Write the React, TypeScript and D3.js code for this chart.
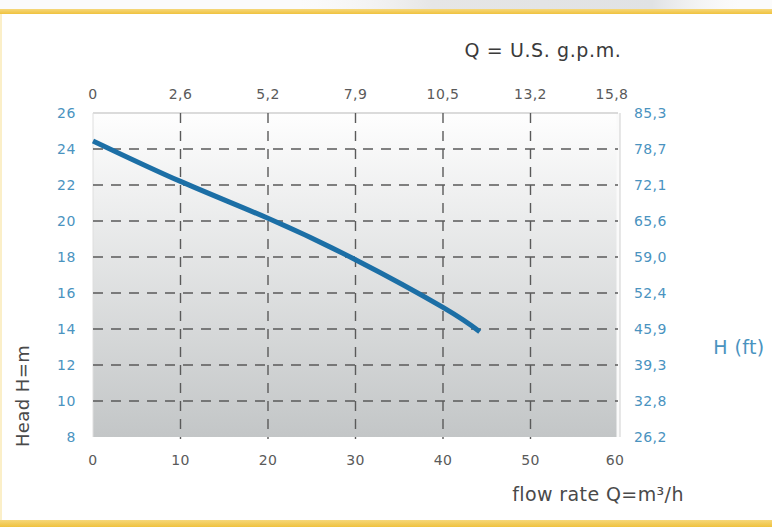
import React from "react";
import * as d3 from "d3";

const flowM3h = [0, 10, 20, 30, 40, 44.2];
const headM = [24.45, 22.2, 20.15, 17.85, 15.2, 13.85];
const xTicks = [0, 10, 20, 30, 40, 50, 60];
const yTicks = [8, 10, 12, 14, 16, 18, 20, 22, 24, 26];
const gpmLabels = ["0", "2,6", "5,2", "7,9", "10,5", "13,2", "15,8"];
const ftLabels = ["26,2", "32,8", "39,3", "45,9", "52,4", "59,0", "65,6", "72,1", "78,7", "85,3"];

const W = 772;
const H = 527;
const FONT = "'DejaVu Sans', 'Noto Sans', sans-serif";

export default function App() {
  const x = d3.scaleLinear().domain([0, 60]).range([93, 618]);
  const y = d3.scaleLinear().domain([8, 26]).range([437, 113]);
  const pts: [number, number][] = flowM3h.map((f, i) => [f, headM[i]]);
  const line = d3
    .line<[number, number]>()
    .x((d) => x(d[0]))
    .y((d) => y(d[1]))
    .curve(d3.curveNatural);

  const [x0, x1] = x.range();
  const [yb, yt] = y.range();
  const grid = "#5a5a5a";
  const blue = "#4a93bf";
  const gray = "#5a5a5a";

  return (
    <svg
      width={W}
      height={H}
      style={{ position: "absolute", left: 0, top: 0, background: "#fff" }}
      fontFamily={FONT}
    >
      <defs>
        <linearGradient id="bg" x1="0" y1="0" x2="0" y2="1">
          <stop offset="0" stopColor="#fefefe" />
          <stop offset="1" stopColor="#c3c6c7" />
        </linearGradient>
        <linearGradient id="yel" x1="0" y1="0" x2="0" y2="1">
          <stop offset="0" stopColor="#f6d77a" />
          <stop offset="1" stopColor="#efc23e" />
        </linearGradient>
        <linearGradient id="topimg" x1="0" y1="0" x2="1" y2="0">
          <stop offset="0" stopColor="#f3f3f3" stopOpacity="0" />
          <stop offset="0.3" stopColor="#e6e6e6" />
          <stop offset="0.8" stopColor="#e0e2e4" />
          <stop offset="1" stopColor="#f3f3f3" stopOpacity="0" />
        </linearGradient>
      </defs>

      {/* frame */}
      <rect x={0} y={0} width={W} height={9} fill="#fbfbfb" />
      <rect x={300} y={0} width={440} height={9} fill="url(#topimg)" />
      <rect x={0} y={9} width={W} height={5} fill="url(#yel)" />
      <rect x={0} y={520} width={W} height={7} fill="url(#yel)" />
      <rect x={0} y={14} width={2} height={506} fill="#fbefc8" />

      {/* plot background */}
      <rect x={x0} y={yt} width={x1 - x0} height={yb - yt} fill="url(#bg)" />
      <line x1={x1} x2={x1} y1={yt} y2={yb} stroke="#fafafa" strokeWidth={3} />
      <line x1={x1 + 2} x2={x1 + 2} y1={yt} y2={yb} stroke="#cfcfcf" strokeWidth={1} />
      <line x1={x0} x2={x1} y1={yt} y2={yt} stroke="#cfcfcf" strokeWidth={1.5} />
      <line x1={x0} x2={x0} y1={yt} y2={yb} stroke="#dedede" strokeWidth={1} />

      {/* horizontal grid */}
      {yTicks
        .filter((t) => t !== 8 && t !== 26)
        .map((t) => (
          <line
            key={"h" + t}
            x1={x0}
            x2={x1}
            y1={y(t)}
            y2={y(t)}
            stroke={grid}
            strokeWidth={1.4}
            strokeDasharray="10 8"
          />
        ))}
      {/* vertical grid */}
      {xTicks
        .filter((t) => t !== 0 && t !== 60)
        .map((t) => (
          <line
            key={"v" + t}
            x1={x(t)}
            x2={x(t)}
            y1={yt}
            y2={yb + 2}
            stroke={grid}
            strokeWidth={1.4}
            strokeDasharray="10 8"
          />
        ))}

      {/* curve */}
      <path d={line(pts) || ""} fill="none" stroke="#1c6fa6" strokeWidth={5} />

      {/* left axis labels */}
      {yTicks.map((t) => (
        <text key={"yl" + t} x={76} y={y(t) + 5} textAnchor="end" fontSize={14} letterSpacing={0.6} fill={blue}>
          {t}
        </text>
      ))}
      {/* right axis labels */}
      {yTicks.map((t, i) => (
        <text key={"yr" + t} x={634} y={y(t) + 5} textAnchor="start" fontSize={14} letterSpacing={0.4} fill={blue}>
          {ftLabels[i]}
        </text>
      ))}
      {/* bottom labels */}
      {xTicks.map((t) => (
        <text key={"xb" + t} x={x(t) - (t === 60 ? 3 : 0)} y={465} textAnchor="middle" fontSize={14} letterSpacing={0.4} fill={gray}>
          {t}
        </text>
      ))}
      {/* top labels */}
      {xTicks.map((t, i) => (
        <text key={"xt" + t} x={x(t) - (t === 60 ? 6 : 0)} y={99} textAnchor="middle" fontSize={14} letterSpacing={0.4} fill={gray}>
          {gpmLabels[i]}
        </text>
      ))}

      <text x={543} y={57} textAnchor="middle" fontSize={19} letterSpacing={0.6} fill="#3a3a3a">
        Q = U.S. g.p.m.
      </text>
      <text x={598} y={501} textAnchor="middle" fontSize={19} letterSpacing={0.4} fill="#4a4a4a">
        flow rate Q=m³/h
      </text>
      <text x={739} y={354} textAnchor="middle" fontSize={19} letterSpacing={0.4} fill={blue}>
        H (ft)
      </text>
      <text
        x={0}
        y={0}
        transform="translate(29,396) rotate(-90)"
        textAnchor="middle"
        fontSize={18}
        letterSpacing={0.4}
        fill="#4a4a4a"
      >
        Head H=m
      </text>
    </svg>
  );
}
